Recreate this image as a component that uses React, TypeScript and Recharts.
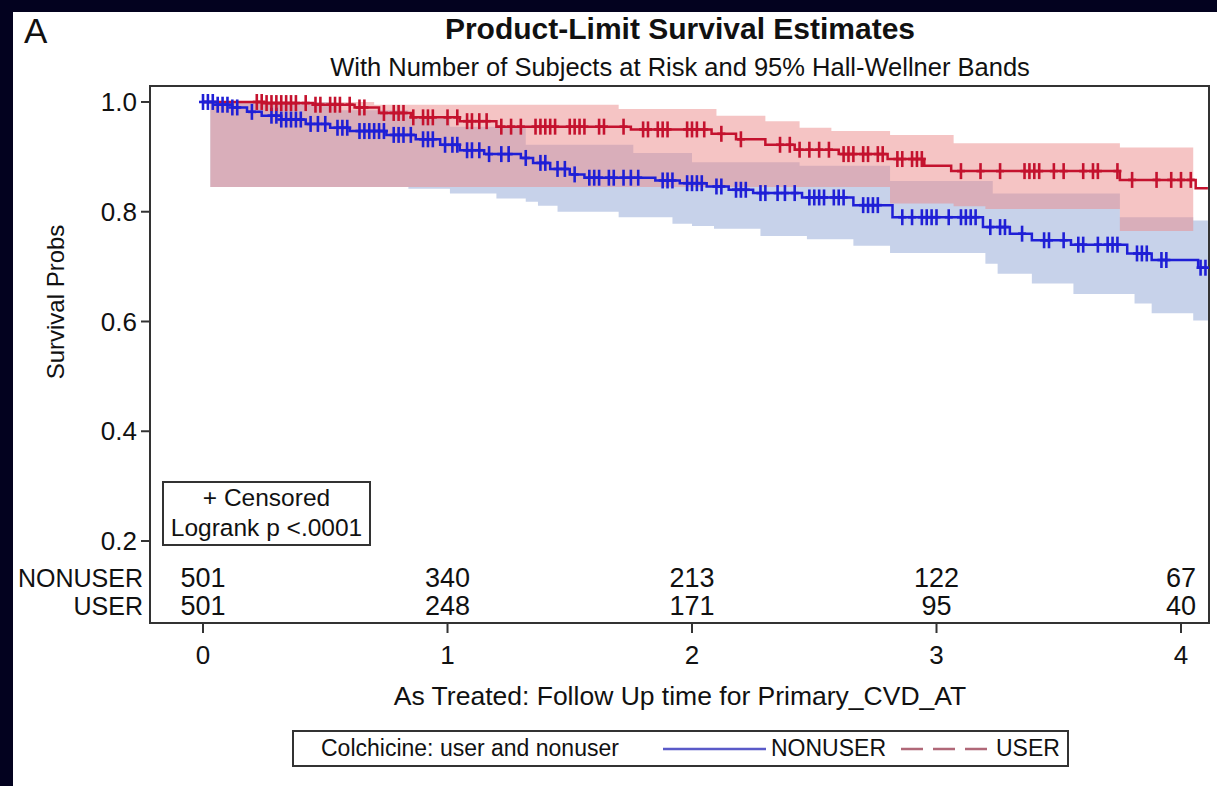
import { ComposedChart, Line, Area, Scatter, XAxis, YAxis, ReferenceArea } from "recharts"

const FONT = '"Liberation Sans", Arial, Helvetica, sans-serif'

// axis ticks and at-risk table
const tickTimes = [0, 1, 2, 3, 4]
const yTicks = [0.2, 0.4, 0.6, 0.8, 1.0]
const groupLabels = ["NONUSER", "USER"]
const atRiskNonuser = [501, 340, 213, 122, 67]
const atRiskUser = [501, 248, 171, 95, 40]

// Kaplan-Meier steps (time, survival after the step)
const nonuserTimes = [0, 0.06, 0.12, 0.18, 0.24, 0.32, 0.42, 0.52, 0.6, 0.75, 0.87, 0.97, 1.05, 1.15, 1.3, 1.35, 1.42, 1.5, 1.56, 1.85, 1.95, 2.06, 2.15, 2.25, 2.45, 2.66, 2.82, 3.19, 3.3, 3.39, 3.55, 3.78, 3.88, 4.07]
const nonuserSurv = [1.0, 0.995, 0.99, 0.982, 0.975, 0.968, 0.96, 0.953, 0.947, 0.94, 0.932, 0.922, 0.912, 0.905, 0.898, 0.889, 0.878, 0.868, 0.862, 0.857, 0.852, 0.846, 0.84, 0.834, 0.826, 0.812, 0.79, 0.772, 0.76, 0.748, 0.74, 0.724, 0.712, 0.698]
const userTimes = [0, 0.25, 0.45, 0.62, 0.72, 0.85, 1.05, 1.2, 1.75, 2.08, 2.18, 2.3, 2.42, 2.6, 2.8, 2.95, 3.06, 3.75, 4.06]
const userSurv = [1.0, 0.998, 0.995, 0.99, 0.98, 0.972, 0.965, 0.955, 0.95, 0.942, 0.932, 0.922, 0.913, 0.905, 0.896, 0.884, 0.874, 0.858, 0.843]
const followEnd = 4.11

// censored times
const nonuserCensor = [0.0, 0.02, 0.04, 0.06, 0.08, 0.1, 0.12, 0.14, 0.2, 0.28, 0.3, 0.32, 0.34, 0.36, 0.38, 0.4, 0.44, 0.47, 0.5, 0.55, 0.57, 0.59, 0.64, 0.66, 0.68, 0.7, 0.72, 0.74, 0.78, 0.8, 0.82, 0.85, 0.9, 0.92, 0.94, 0.99, 1.02, 1.04, 1.08, 1.1, 1.13, 1.17, 1.22, 1.25, 1.32, 1.38, 1.4, 1.45, 1.48, 1.52, 1.58, 1.6, 1.62, 1.66, 1.68, 1.72, 1.75, 1.78, 1.88, 1.9, 1.92, 1.98, 2.0, 2.02, 2.04, 2.1, 2.12, 2.18, 2.2, 2.22, 2.28, 2.3, 2.35, 2.38, 2.42, 2.48, 2.5, 2.52, 2.54, 2.58, 2.6, 2.62, 2.7, 2.72, 2.74, 2.76, 2.86, 2.9, 2.94, 2.96, 2.98, 3.0, 3.05, 3.1, 3.12, 3.14, 3.16, 3.22, 3.26, 3.28, 3.35, 3.44, 3.46, 3.52, 3.58, 3.6, 3.66, 3.7, 3.72, 3.74, 3.82, 3.84, 3.86, 3.92, 3.94, 4.08, 4.1]
const userCensor = [0.22, 0.24, 0.26, 0.28, 0.3, 0.32, 0.34, 0.36, 0.38, 0.42, 0.46, 0.48, 0.52, 0.54, 0.56, 0.6, 0.64, 0.66, 0.74, 0.78, 0.8, 0.82, 0.86, 0.9, 0.92, 0.94, 1.0, 1.04, 1.08, 1.1, 1.13, 1.16, 1.22, 1.26, 1.3, 1.36, 1.38, 1.4, 1.42, 1.44, 1.5, 1.52, 1.54, 1.56, 1.62, 1.64, 1.72, 1.8, 1.82, 1.86, 1.88, 1.9, 1.98, 2.0, 2.02, 2.05, 2.12, 2.2, 2.36, 2.4, 2.44, 2.48, 2.52, 2.56, 2.62, 2.64, 2.66, 2.7, 2.72, 2.76, 2.78, 2.84, 2.86, 2.9, 2.92, 2.94, 3.1, 3.18, 3.26, 3.36, 3.38, 3.4, 3.42, 3.48, 3.52, 3.6, 3.64, 3.66, 3.74, 3.8, 3.9, 3.96, 4.0, 4.04]

// 95% Hall-Wellner bands
const nonuserBandTimes = [0.03, 0.55, 0.84, 1.01, 1.2, 1.32, 1.37, 1.45, 1.7, 1.76, 1.92, 2.0, 2.09, 2.28, 2.44, 2.47, 2.66, 2.81, 3.2, 3.23, 3.25, 3.39, 3.56, 3.75, 3.81, 3.88, 4.05, 4.11]
const nonuserBandLow = [0.845, 0.845, 0.842, 0.833, 0.824, 0.818, 0.811, 0.8, 0.79, 0.79, 0.778, 0.774, 0.769, 0.756, 0.756, 0.75, 0.738, 0.725, 0.705, 0.705, 0.687, 0.669, 0.65, 0.65, 0.633, 0.615, 0.602, 0.602]
const nonuserBandHigh = [1.0, 0.985, 0.97, 0.955, 0.955, 0.922, 0.922, 0.922, 0.922, 0.907, 0.907, 0.89, 0.89, 0.89, 0.884, 0.884, 0.884, 0.856, 0.856, 0.833, 0.833, 0.833, 0.833, 0.79, 0.79, 0.79, 0.784, 0.784]
const userBandTimes = [0.03, 0.7, 1.7, 2.1, 2.3, 2.44, 2.57, 2.81, 3.07, 3.2, 3.75, 4.05]
const userBandLow = [0.845, 0.845, 0.845, 0.845, 0.845, 0.845, 0.845, 0.815, 0.81, 0.805, 0.765, 0.765]
const userBandHigh = [1.0, 0.995, 0.987, 0.975, 0.965, 0.953, 0.947, 0.94, 0.925, 0.925, 0.917, 0.917]

const X_MIN = -0.2168
const X_MAX = 4.1145
const Y_MIN = 0.0506
const Y_MAX = 1.0291
const ROW_NONUSER = 0.133
const ROW_USER = 0.082

const BLUE = "#1f1fd6"
const RED = "#c4122e"

function stepRows(times: number[], vals: number[]) {
  const rows = times.map((t, i) => ({ t, s: vals[i] }))
  rows.push({ t: followEnd, s: vals[vals.length - 1] })
  return rows
}

function bandRows(times: number[], lo: number[], hi: number[]) {
  return times.map((t, i) => ({ t, range: [lo[i], hi[i]] }))
}

function survAt(times: number[], vals: number[], t: number) {
  let v = vals[0]
  times.forEach((tt, i) => {
    if (tt <= t) v = vals[i]
  })
  return v
}

const censorRows = (c: number[], times: number[], vals: number[]) =>
  c.map((t) => ({ t, s: survAt(times, vals, t) }))

const plusShape = (color: string) => (props: any) => {
  const { cx, cy } = props
  return (
    <g stroke={color} strokeWidth={2.6}>
      <line x1={cx} x2={cx} y1={cy - 8} y2={cy + 8} />
      <line x1={cx - 4} x2={cx + 4} y1={cy} y2={cy} />
    </g>
  )
}

const countShape = (props: any) => (
  <text
    x={props.cx}
    y={props.cy}
    textAnchor="middle"
    dominantBaseline="central"
    fontSize={27}
    fontFamily={FONT}
    fill="#111"
  >
    {props.payload.n}
  </text>
)

const rowLabel = (text: string, top: number) => (
  <div
    style={{
      position: "absolute",
      right: 1217 - 143,
      top,
      fontSize: 25,
      lineHeight: "28px",
      whiteSpace: "nowrap",
    }}
  >
    {text}
  </div>
)

export default function App() {
  const nonuserLine = stepRows(nonuserTimes, nonuserSurv)
  const userLine = stepRows(userTimes, userSurv)
  const nonuserBand = bandRows(nonuserBandTimes, nonuserBandLow, nonuserBandHigh)
  const userBand = bandRows(userBandTimes, userBandLow, userBandHigh)
  const nonuserMarks = censorRows(nonuserCensor, nonuserTimes, nonuserSurv)
  const userMarks = censorRows(userCensor, userTimes, userSurv)
  const riskNonuser = tickTimes.map((t, i) => ({ t, s: ROW_NONUSER, n: atRiskNonuser[i] }))
  const riskUser = tickTimes.map((t, i) => ({ t, s: ROW_USER, n: atRiskUser[i] }))

  return (
    <div
      style={{
        position: "fixed",
        left: 0,
        top: 0,
        width: 1217,
        height: 786,
        background: "#03021f",
        fontFamily: FONT,
        color: "#111",
      }}
    >
      <div style={{ position: "absolute", left: 13, top: 12, right: 0, bottom: 0, background: "#fff" }} />
      <div style={{ position: "absolute", left: 24, top: 13, fontSize: 35, lineHeight: "35px" }}>A</div>
      <div
        style={{
          position: "absolute",
          left: 180,
          width: 1000,
          top: 14,
          textAlign: "center",
          fontSize: 30,
          lineHeight: "30px",
          fontWeight: "bold",
        }}
      >
        Product-Limit Survival Estimates
      </div>
      <div
        style={{
          position: "absolute",
          left: 180,
          width: 1000,
          top: 54,
          textAlign: "center",
          fontSize: 25.5,
          lineHeight: "26px",
        }}
      >
        With Number of Subjects at Risk and 95% Hall-Wellner Bands
      </div>

      <div style={{ position: "absolute", left: 0, top: 0 }}>
        <ComposedChart width={1217} height={786} margin={{ top: 86, right: 8, bottom: 123, left: 0 }}>
          <XAxis
            dataKey="t"
            type="number"
            domain={[X_MIN, X_MAX]}
            allowDataOverflow
            ticks={tickTimes}
            height={40}
            tickSize={10}
            tickMargin={13}
            stroke="#333"
            strokeWidth={2}
            tick={{ fontSize: 26, fill: "#111", fontFamily: FONT }}
          />
          <YAxis
            dataKey="s"
            type="number"
            domain={[Y_MIN, Y_MAX]}
            allowDataOverflow
            ticks={yTicks}
            width={150}
            tickSize={9}
            tickMargin={4}
            stroke="#333"
            strokeWidth={2}
            tickFormatter={(v: number) => v.toFixed(1)}
            tick={{ fontSize: 26, fill: "#111", fontFamily: FONT }}
          />
          <Area
            data={nonuserBand}
            dataKey="range"
            type="stepAfter"
            fill="#8fa6d6"
            fillOpacity={0.5}
            stroke="none"
            isAnimationActive={false}
          />
          <Area
            data={userBand}
            dataKey="range"
            type="stepAfter"
            fill="#ec8a8a"
            fillOpacity={0.5}
            stroke="none"
            isAnimationActive={false}
          />
          <Line
            data={nonuserLine}
            dataKey="s"
            type="stepAfter"
            stroke={BLUE}
            strokeWidth={2.5}
            dot={false}
            isAnimationActive={false}
          />
          <Line
            data={userLine}
            dataKey="s"
            type="stepAfter"
            stroke={RED}
            strokeWidth={2.5}
            dot={false}
            isAnimationActive={false}
          />
          <Scatter data={nonuserMarks} dataKey="s" shape={plusShape(BLUE)} isAnimationActive={false} />
          <Scatter data={userMarks} dataKey="s" shape={plusShape(RED)} isAnimationActive={false} />
          <Scatter data={riskNonuser} dataKey="s" shape={countShape} isAnimationActive={false} />
          <Scatter data={riskUser} dataKey="s" shape={countShape} isAnimationActive={false} />
          <ReferenceArea
            x1={X_MIN}
            x2={X_MAX}
            y1={Y_MIN}
            y2={Y_MAX}
            fill="none"
            stroke="#333"
            strokeWidth={2}
            ifOverflow="visible"
          />
        </ComposedChart>
      </div>

      {rowLabel(groupLabels[0], 564)}
      {rowLabel(groupLabels[1], 592)}

      <div
        style={{
          position: "absolute",
          left: 56,
          top: 302,
          transform: "translate(-50%, -50%) rotate(-90deg)",
          fontSize: 24,
          whiteSpace: "nowrap",
        }}
      >
        Survival Probs
      </div>

      <div
        style={{
          position: "absolute",
          left: 162,
          top: 481,
          width: 205,
          height: 61,
          border: "2px solid #333",
          background: "#fff",
          textAlign: "center",
          fontSize: 24.5,
          lineHeight: "30px",
        }}
      >
        <div>+ Censored</div>
        <div>Logrank p &lt;.0001</div>
      </div>

      <div
        style={{
          position: "absolute",
          left: 180,
          width: 1000,
          top: 683,
          textAlign: "center",
          fontSize: 26.5,
          lineHeight: "27px",
        }}
      >
        As Treated: Follow Up time for Primary_CVD_AT
      </div>

      <div
        style={{
          position: "absolute",
          left: 292,
          top: 730,
          width: 773,
          height: 33,
          border: "2px solid #333",
          fontSize: 23,
          lineHeight: "33px",
          whiteSpace: "nowrap",
        }}
      >
        <span style={{ position: "absolute", left: 27 }}>Colchicine: user and nonuser</span>
        <svg width={103} height={10} style={{ position: "absolute", left: 369, top: 12 }}>
          <line x1={0} x2={103} y1={5} y2={5} stroke="#5a5ac8" strokeWidth={2.5} />
        </svg>
        <span style={{ position: "absolute", left: 477 }}>NONUSER</span>
        <svg width={86} height={10} style={{ position: "absolute", left: 607, top: 12 }}>
          <line x1={0} x2={86} y1={5} y2={5} stroke="#b06878" strokeWidth={2.5} strokeDasharray="22 10" />
        </svg>
        <span style={{ position: "absolute", left: 702 }}>USER</span>
      </div>
    </div>
  )
}
